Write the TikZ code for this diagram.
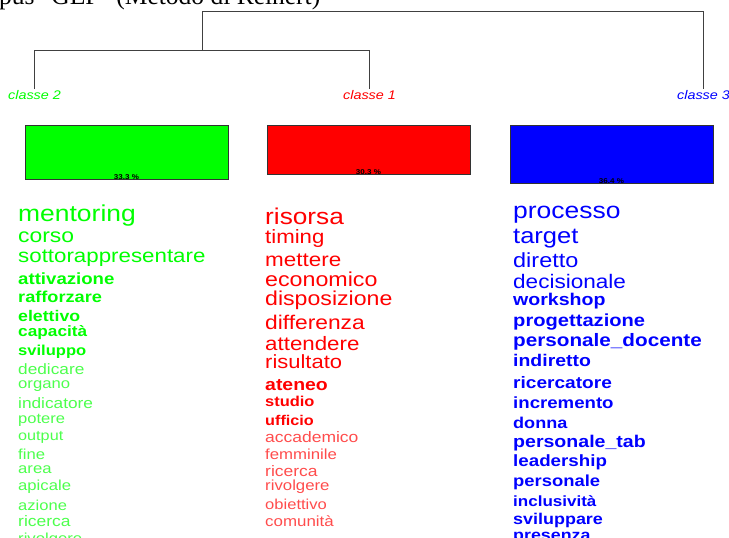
\documentclass[tikz,border=0pt]{standalone}
\usepackage{fontspec}
\setmainfont{Liberation Sans}[FakeStretch=1.15]
\newfontfamily\titlefont{Liberation Serif}
\usetikzlibrary{positioning}

\begin{document}
\begin{tikzpicture}[x=1pt,y=-1pt,
  branch/.style={draw=black!75,line width=1pt},
  clab/.style={inner sep=0pt,font=\itshape\fontsize{12.5}{12.5}\selectfont},
  clbox/.style={draw=black!80,line width=0.9pt,anchor=north,inner sep=0pt,minimum width=203pt},
  pct/.style={anchor=base,inner sep=0pt,font=\bfseries\fontsize{7}{7}\selectfont},
  term/.style={anchor=base west,inner sep=0pt},
  w2/.style={term,text=green,font=\fontsize{#1}{#1}\selectfont},
  w2b/.style={term,text=green,font=\bfseries\fontsize{#1}{#1}\selectfont},
  w2l/.style={term,text=green!70!white,font=\fontsize{#1}{#1}\selectfont},
  w1/.style={term,text=red,font=\fontsize{#1}{#1}\selectfont},
  w1b/.style={term,text=red,font=\bfseries\fontsize{#1}{#1}\selectfont},
  w1l/.style={term,text=red!70!white,font=\fontsize{#1}{#1}\selectfont},
  w3/.style={term,text=blue,font=\fontsize{#1}{#1}\selectfont},
  w3b/.style={term,text=blue,font=\bfseries\fontsize{#1}{#1}\selectfont}]
\useasboundingbox (0,0) rectangle (729,538);
\clip (0,0) rectangle (729,538);

\node[anchor=base west,inner sep=0pt,font=\titlefont\fontsize{25.5}{25.5}\selectfont] (title) at (-1,5) {pus "GEF" (Metodo di Reinert)};

% dendrogram
\coordinate (root) at (202.5,11.5);
\coordinate (n12) at (202.5,50.5);
\coordinate (c2) at (34.5,89);
\coordinate (c1) at (369.5,89);
\coordinate (c3) at (703.5,89);
\draw[branch] (n12) -- (root) -| (c3);
\draw[branch] (c2) |- (n12) -| (c1);

\node[clab,text=green,below=1pt of c2] (l2) {classe 2};
\node[clab,text=red,below=1pt of c1] (l1) {classe 1};
\node[clab,text=blue,below=1pt of c3] (l3) {classe 3};

% class sizes
\node[clbox,fill=green,minimum height=54pt] (box2) at (126.5,125) {};
\node[clbox,fill=red,minimum height=49pt] (box1) at (368.5,125) {};
\node[clbox,fill=blue,minimum height=58pt] (box3) at (611.5,125) {};
\node[pct] (p2) at ([yshift=0.5pt]box2.south) {33.3~\%};
\node[pct] (p1) at ([yshift=0.5pt]box1.south) {30.3~\%};
\node[pct] (p3) at ([yshift=0.5pt]box3.south) {36.4~\%};

% classe 2
\node[w2=23] (g1) at (18,221.7) {mentoring};
\node[w2=19.9] (g2) at (18,242) {corso};
\node[w2=19.4] (g3) at (18,262.7) {sottorappresentare};
\node[w2b=16.2] (g4) at (18,284) {attivazione};
\node[w2b=15.8] (g5) at (18,302.7) {rafforzare};
\node[w2b=15.4] (g6) at (18,321.7) {elettivo};
\node[w2b=15] (g7) at (18,336.7) {capacità};
\node[w2b=14.4] (g8) at (18,355) {sviluppo};
\node[w2l=15] (g9) at (18,374) {dedicare};
\node[w2l=14.5] (g10) at (18,388.3) {organo};
\node[w2l=15] (g11) at (18,408.3) {indicatore};
\node[w2l=14.4] (g12) at (18,423.3) {potere};
\node[w2l=14.1] (g13) at (18,440) {output};
\node[w2l=14.5] (g14) at (18,459) {fine};
\node[w2l=14.5] (g15) at (18,473.3) {area};
\node[w2l=14.5] (g16) at (18,490) {apicale};
\node[w2l=14.4] (g17) at (18,510) {azione};
\node[w2l=15.2] (g18) at (18,526.7) {ricerca};
\node[w2l=14.5] (g19) at (18,543) {rivolgere};

% classe 1
\node[w1=22.8] (r1) at (265,224.3) {risorsa};
\node[w1=19.3] (r2) at (265,243.3) {timing};
\node[w1=19.5] (r3) at (265,266) {mettere};
\node[w1=20.2] (r4) at (265,286.7) {economico};
\node[w1=20.1] (r5) at (265,305) {disposizione};
\node[w1=19.8] (r6) at (265,329.3) {differenza};
\node[w1=19.4] (r7) at (265,350.7) {attendere};
\node[w1=19.1] (r8) at (265,368.3) {risultato};
\node[w1b=16.9] (r9) at (265,390) {ateneo};
\node[w1b=14.3] (r10) at (265,406.7) {studio};
\node[w1b=14.1] (r11) at (265,425) {ufficio};
\node[w1l=15.2] (r12) at (265,442.7) {accademico};
\node[w1l=14.6] (r13) at (265,459.3) {femminile};
\node[w1l=15.2] (r14) at (265,476) {ricerca};
\node[w1l=14.6] (r15) at (265,490) {rivolgere};
\node[w1l=14.4] (r16) at (265,509.3) {obiettivo};
\node[w1l=14.7] (r17) at (265,526) {comunità};

% classe 3
\node[w3=23] (bl1) at (513,218.3) {processo};
\node[w3=22.2] (bl2) at (513,243.3) {target};
\node[w3=20.4] (bl3) at (513,267.3) {diretto};
\node[w3=19.6] (bl4) at (513,288.7) {decisionale};
\node[w3b=17] (bl5) at (513,305) {workshop};
\node[w3b=17.5] (bl6) at (513,326.7) {progettazione};
\node[w3b=18] (bl7) at (513,346.7) {personale\_docente};
\node[w3b=16.9] (bl8) at (513,366.7) {indiretto};
\node[w3b=16.6] (bl9) at (513,388.3) {ricercatore};
\node[w3b=16.2] (bl10) at (513,408.3) {incremento};
\node[w3b=15.7] (bl11) at (513,428.3) {donna};
\node[w3b=17] (bl12) at (513,447.3) {personale\_tab};
\node[w3b=16.3] (bl13) at (513,466.7) {leadership};
\node[w3b=16] (bl14) at (513,486) {personale};
\node[w3b=14.8] (bl15) at (513,506.7) {inclusività};
\node[w3b=15.6] (bl16) at (513,524.3) {sviluppare};
\node[w3b=15.5] (bl17) at (513,540.5) {presenza};
\end{tikzpicture}
\end{document}
